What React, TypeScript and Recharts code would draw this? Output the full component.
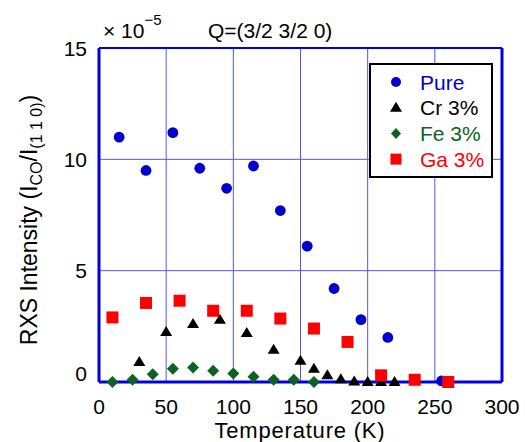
import { ScatterChart, Scatter, XAxis, YAxis, CartesianGrid, ReferenceLine } from 'recharts';

// temperature (K) and RXS intensity (x 1e-5)
const TEMP_PURE = [15, 35, 55, 75, 95, 115, 135, 155, 175, 195, 215, 255];
const PURE = [11.0, 9.5, 11.2, 9.6, 8.7, 9.7, 7.7, 6.1, 4.2, 2.8, 2.0, 0.05];

const TEMP_CR = [30, 50, 70, 90, 110, 130, 150, 160, 170, 180, 190, 200, 210, 220];
const CR = [0.9, 2.25, 2.6, 2.8, 2.2, 1.45, 0.95, 0.6, 0.3, 0.12, 0.02, 0, 0, 0];

const TEMP_FE = [10, 25, 40, 55, 70, 85, 100, 115, 130, 145, 160];
const FE = [0.0, 0.1, 0.35, 0.6, 0.65, 0.5, 0.38, 0.24, 0.1, 0.1, 0.0];

const TEMP_GA = [10, 35, 60, 85, 110, 135, 160, 185, 210, 235, 260];
const GA = [2.9, 3.55, 3.65, 3.2, 3.2, 2.85, 2.4, 1.8, 0.3, 0.1, 0.0];

const X_TICKS = [0, 50, 100, 150, 200, 250, 300];
const Y_TICKS = [0, 5, 10, 15];

const FONT = '"Liberation Sans", Arial, sans-serif';
const AXIS_BLUE = '#0000dd';
const GRID_BLUE = '#5555e6';

const BLUE = '#0000cc';
const GREEN = '#0d6322';
const RED = '#ff0000';

const toPoints = (ts: number[], vs: number[]) => ts.map((t, i) => ({ t, v: vs[i] }));

const pureData = toPoints(TEMP_PURE, PURE);
const crData = toPoints(TEMP_CR, CR);
const feData = toPoints(TEMP_FE, FE);
const gaData = toPoints(TEMP_GA, GA);

const CircleDot = (p: any) => <circle cx={p.cx} cy={p.cy} r={5.4} fill={BLUE} />;
const TriDot = (p: any) => (
  <polygon points={`${p.cx},${p.cy - 6} ${p.cx - 6},${p.cy + 4} ${p.cx + 6},${p.cy + 4}`} fill="#000" />
);
const DiamondDot = (p: any) => (
  <polygon points={`${p.cx},${p.cy - 6} ${p.cx + 6},${p.cy} ${p.cx},${p.cy + 6} ${p.cx - 6},${p.cy}`} fill={GREEN} />
);
const SquareDot = (p: any) => <rect x={p.cx - 6} y={p.cy - 6} width={12} height={12} fill={RED} />;

const legendItems = [
  { name: 'Pure', color: BLUE, icon: (x: number, y: number) => <circle cx={x} cy={y} r={5} fill={BLUE} /> },
  { name: 'Cr 3%', color: '#000', icon: (x: number, y: number) => <polygon points={`${x},${y - 6} ${x - 6},${y + 4} ${x + 6},${y + 4}`} fill="#000" /> },
  { name: 'Fe 3%', color: GREEN, icon: (x: number, y: number) => <polygon points={`${x},${y - 5.5} ${x + 5},${y} ${x},${y + 5.5} ${x - 5},${y}`} fill={GREEN} /> },
  { name: 'Ga 3%', color: RED, icon: (x: number, y: number) => <rect x={x - 5.5} y={y - 5.5} width={11} height={11} fill={RED} /> },
];

const LegendBox = () => (
  <div
    style={{
      position: 'absolute',
      left: 369,
      top: 63,
      width: 124,
      height: 115,
      border: '2px solid #000',
      background: '#fff',
      boxSizing: 'border-box',
    }}
  >
    <svg width={120} height={111} style={{ display: 'block' }}>
      {legendItems.map((it, i) => {
        const y = 17 + i * 25.7;
        return (
          <g key={it.name}>
            {it.icon(25, y)}
            <text x={49} y={y} dominantBaseline="central" fontSize={21} fontFamily={FONT} fill={it.color}>
              {it.name}
            </text>
          </g>
        );
      })}
    </svg>
  </div>
);

const YTick = (p: any) => (
  <text
    x={87}
    y={p.payload.value === 0 ? p.y - 9 : p.y}
    textAnchor="end"
    dominantBaseline="central"
    fontSize={21}
    fontFamily={FONT}
    fill="#000"
  >
    {p.payload.value}
  </text>
);

const XTick = (p: any) => (
  <text x={p.x} y={406} textAnchor="middle" dominantBaseline="central" fontSize={21} fontFamily={FONT} fill="#000">
    {p.payload.value}
  </text>
);

const YLabel = () => (
  <text
    transform="translate(29, 220) rotate(-90)"
    textAnchor="middle"
    dominantBaseline="central"
    fontSize={23}
    fontFamily={FONT}
    fill="#000"
  >
    RXS Intensity (I
    <tspan fontSize={16} dy={7}>CO</tspan>
    <tspan dy={-7}>/I</tspan>
    <tspan fontSize={16} dy={7}>(1 1 0)</tspan>
    <tspan dy={-7}>)</tspan>
  </text>
);

const XLabel = () => (
  <text x={300} y={430} textAnchor="middle" dominantBaseline="central" fontSize={22} fontFamily={FONT} fill="#000" letterSpacing={0.8}>
    Temperature (K)
  </text>
);

export default function App() {
  return (
    <div style={{ position: 'absolute', left: 0, top: 0, width: 525, height: 442, background: '#fff' }}>
      <ScatterChart width={525} height={442} margin={{ top: 48, right: 23, bottom: 0, left: 0 }}>
        <CartesianGrid stroke={GRID_BLUE} strokeWidth={1} />
        <XAxis
          type="number"
          dataKey="t"
          domain={[0, 300]}
          ticks={X_TICKS}
          height={60}
          axisLine={{ stroke: AXIS_BLUE, strokeWidth: 3 }}
          tickLine={false}
          tick={<XTick />}
          label={<XLabel />}
        />
        <YAxis
          type="number"
          dataKey="v"
          domain={[0, 15]}
          ticks={Y_TICKS}
          width={99}
          axisLine={{ stroke: AXIS_BLUE, strokeWidth: 3 }}
          tickLine={false}
          tick={<YTick />}
          label={<YLabel />}
        />
        <ReferenceLine x={300} stroke={AXIS_BLUE} strokeWidth={3} />
        <ReferenceLine y={15} stroke={AXIS_BLUE} strokeWidth={2} />
        <Scatter name="Pure" data={pureData} shape={<CircleDot />} isAnimationActive={false} />
        <Scatter name="Cr 3%" data={crData} shape={<TriDot />} isAnimationActive={false} />
        <Scatter name="Fe 3%" data={feData} shape={<DiamondDot />} isAnimationActive={false} />
        <Scatter name="Ga 3%" data={gaData} shape={<SquareDot />} isAnimationActive={false} />
      </ScatterChart>
      <LegendBox />
      <svg width={525} height={48} style={{ position: 'absolute', left: 0, top: 0 }}>
        <text x={103} y={38} fontSize={21} fontFamily={FONT} fill="#000">
          × 10
          <tspan fontSize={15} dy={-13}>−5</tspan>
        </text>
        <text x={208} y={38} fontSize={21} fontFamily={FONT} fill="#000">
          Q=(3/2 3/2 0)
        </text>
      </svg>
    </div>
  );
}
